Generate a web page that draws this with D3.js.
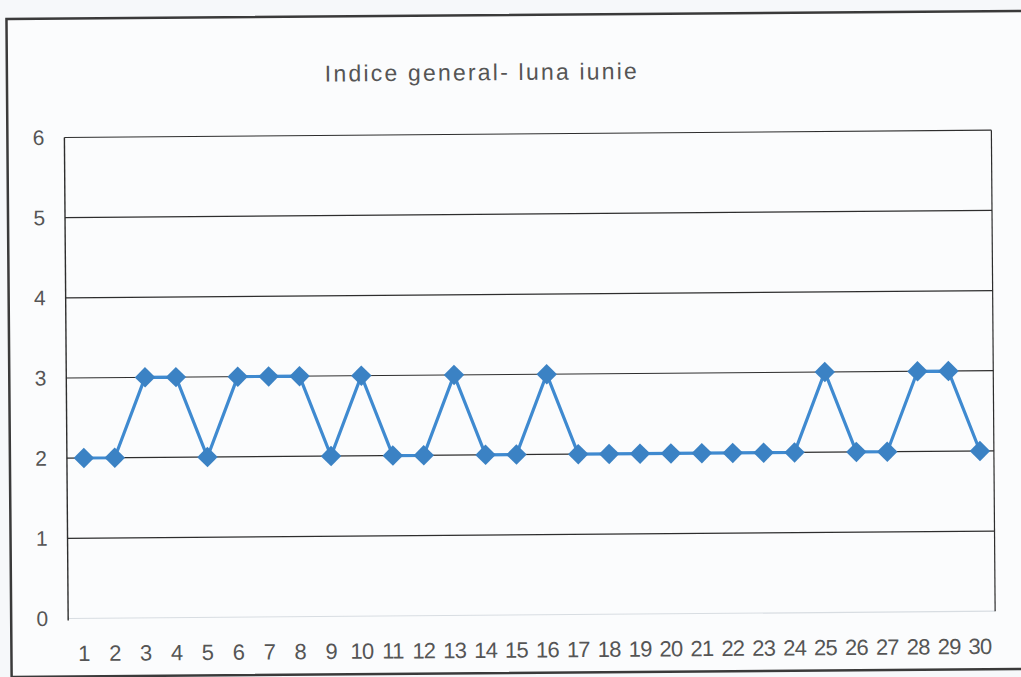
<!DOCTYPE html>
<html><head><meta charset="utf-8">
<script src="https://cdn.jsdelivr.net/npm/d3@7"></script>
<style>body{margin:0;background:#f6f8fa;} svg{display:block;}</style>
</head><body>
<svg id="c" width="1021" height="677"></svg>
<script>
const days = d3.range(1,31).map(String);
const values = [2,2,3,3,2,3,3,3,2,3,2,2,3,2,2,3,2,2,2,2,2,2,2,2,3,2,2,3,3,2];
const yTicks = [0,1,2,3,4,5,6];
const title = "Indice general- luna iunie";

const svg = d3.select("#c");
const W=1021,H=677;
const FONT = "Arial, 'Liberation Sans', sans-serif";
svg.append("rect").attr("width",W).attr("height",H).attr("fill","#f6f8fa");
const g = svg.append("g").attr("transform","rotate(-0.45 510 340)");

const m = {left:66, right:993, top:134, bottom:615};
const x = d3.scaleBand().domain(days).range([m.left,m.right]);
const y = d3.scaleLinear().domain([0,6]).range([m.bottom,m.top]);

// outer frame
g.append("rect").attr("x",9).attr("y",15).attr("width",1030).attr("height",658)
 .attr("fill","#fbfcfd").attr("stroke","#3a3a3a").attr("stroke-width",2.5);

// gridlines
g.append("g").selectAll("line").data(yTicks.filter(d=>d>0)).join("line")
 .attr("x1",m.left).attr("x2",m.right).attr("y1",d=>y(d)).attr("y2",d=>y(d))
 .attr("stroke","#2e2e2e").attr("stroke-width",1.2);
g.append("line").attr("x1",m.left).attr("x2",m.right).attr("y1",y(0)).attr("y2",y(0))
 .attr("stroke","#d8dde2").attr("stroke-width",1.2);
g.append("line").attr("x1",m.left).attr("x2",m.left).attr("y1",m.top).attr("y2",m.bottom+2)
 .attr("stroke","#2e2e2e").attr("stroke-width",1.4);
g.append("line").attr("x1",m.right).attr("x2",m.right).attr("y1",m.top).attr("y2",m.bottom)
 .attr("stroke","#2e2e2e").attr("stroke-width",1.2);

// y axis labels
const yAxis = d3.axisLeft(y).tickValues(yTicks).tickFormat(d3.format("d")).tickSize(0).tickPadding(20);
const ya = g.append("g").attr("transform",`translate(${m.left},0)`).call(yAxis);
ya.select(".domain").remove();
ya.attr("font-family",FONT).attr("font-size",21);
ya.selectAll("text").attr("fill","#555");

// x axis labels
const xAxis = d3.axisBottom(x).tickSize(0).tickPadding(27);
const xa = g.append("g").attr("transform",`translate(0,${m.bottom})`).call(xAxis);
xa.select(".domain").remove();
xa.attr("font-family",FONT).attr("font-size",22).attr("letter-spacing","-0.8");
xa.selectAll("text").attr("fill","#555");

// line
const cx = d=>x(d)+x.bandwidth()/2+1.5;
const pts = values.map((v,i)=>[days[i],v]);
g.append("path").datum(pts)
 .attr("fill","none").attr("stroke","#3f8ad0").attr("stroke-width",3.2)
 .attr("d",d3.line().x(d=>cx(d[0])).y(d=>y(d[1])));
g.append("g").selectAll("path").data(pts).join("path")
 .attr("d",d3.symbol(d3.symbolSquare,210))
 .attr("transform",d=>`translate(${cx(d[0])},${y(d[1])}) rotate(45)`)
 .attr("fill","#3b82c4");

// title
g.append("text").attr("x",484).attr("y",80).attr("text-anchor","middle")
 .attr("font-family",FONT).attr("font-size",23)
 .attr("letter-spacing","2.2").attr("fill","#555").text(title);
</script>
</body></html>
